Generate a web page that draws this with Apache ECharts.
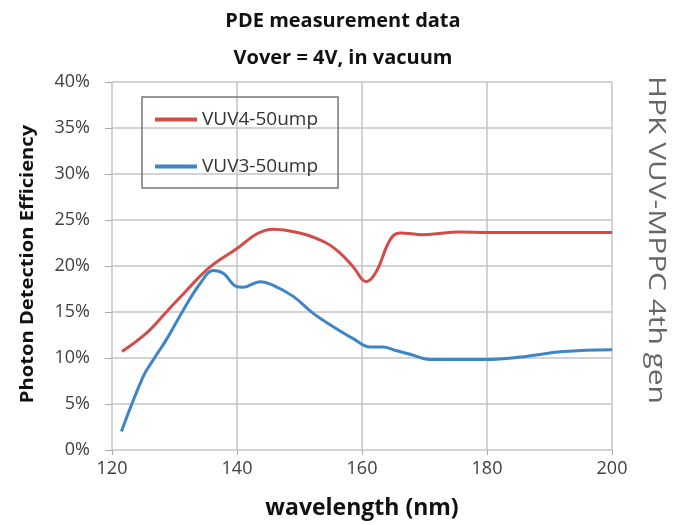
<!DOCTYPE html>
<html>
<head>
<meta charset="utf-8">
<script src="https://cdn.jsdelivr.net/npm/echarts@6/dist/echarts.min.js"></script>
<style>
  html, body { margin: 0; padding: 0; background: #fff; }
  #chart { width: 686px; height: 525px; }
</style>
</head>
<body>
<div id="chart"></div>
<script>
// values (wavelength in nm, PDE in %)
var vuv4Wl  = [121.6, 125.5, 128.7, 132.0, 135.7, 140.0, 143.2, 145.8, 148.5, 151.1, 154.3, 156.5, 158.6, 160.7, 162.3, 164.0, 165.0, 166.1, 169.8, 175.7, 180, 189.5, 200];
var vuv4Pde = [10.7, 12.7, 15.0, 17.4, 19.9, 21.9, 23.5, 24.0, 23.8, 23.4, 22.5, 21.4, 19.9, 18.3, 19.4, 22.2, 23.3, 23.6, 23.4, 23.7, 23.65, 23.65, 23.65];
var vuv3Wl  = [121.5, 125.0, 126.6, 128.7, 131.4, 134.1, 136.2, 137.8, 140.0, 141.0, 143.7, 145.8, 149.0, 152.2, 155.4, 158.6, 161.3, 163.4, 165.0, 167.7, 170.9, 180, 185.3, 192.2, 200];
var vuv3Pde = [2.0, 8.0, 9.8, 12.0, 15.2, 18.1, 19.5, 19.2, 17.75, 17.7, 18.3, 17.9, 16.7, 14.85, 13.4, 12.1, 11.2, 11.2, 10.9, 10.4, 9.85, 9.85, 10.1, 10.7, 10.9];
var seriesNames = ['VUV4-50ump', 'VUV3-50ump'];
var titleLines = ['PDE measurement data', 'Vover = 4V, in vacuum'];

function pairs(xs, ys) {
  return xs.map(function (x, i) { return [x, ys[i]]; });
}

var chart = echarts.init(document.getElementById('chart'));
chart.setOption({
  animation: false,
  title: [
    { text: titleLines[0], left: 'center', top: 6,
      textStyle: { fontFamily: 'Open Sans', fontWeight: 'bold', fontSize: 20, color: '#111' } },
    { text: titleLines[1], left: 'center', top: 43,
      textStyle: { fontFamily: 'Open Sans', fontWeight: 'bold', fontSize: 20, color: '#111' } }
  ],
  grid: { left: 112, right: 74, top: 82, bottom: 75 },
  legend: {
    orient: 'vertical',
    left: 142, top: 97,
    padding: [13, 20, 12, 13],
    itemGap: 28,
    itemWidth: 42, itemHeight: 4,
    icon: 'rect',
    borderColor: '#777', borderWidth: 1.5,
    textStyle: { fontFamily: 'Open Sans', fontSize: 19, color: '#333' },
    data: seriesNames
  },
  xAxis: {
    type: 'value', min: 120, max: 200, interval: 20,
    name: 'wavelength (nm)', nameLocation: 'middle', nameGap: 47,
    nameTextStyle: { fontFamily: 'Open Sans', fontWeight: 'bold', fontSize: 23, color: '#111' },
    axisLine: { show: false },
    axisTick: { show: true, length: 5, lineStyle: { color: '#aaa' } },
    axisLabel: { fontFamily: 'Open Sans', fontSize: 18, color: '#404040', margin: 10 },
    splitLine: { show: true, lineStyle: { color: '#c4c4c4', width: 1.5 } }
  },
  yAxis: {
    type: 'value', min: 0, max: 40, interval: 5,
    axisLine: { show: false },
    axisTick: { show: true, length: 7, lineStyle: { color: '#aaa' } },
    axisLabel: { fontFamily: 'Open Sans', fontSize: 18, color: '#404040', margin: 22, formatter: '{value}%' },
    splitLine: { show: true, lineStyle: { color: '#c4c4c4', width: 1.5 } }
  },
  graphic: [{
    type: 'text',
    x: 28, y: 264,
    rotation: Math.PI / 2,
    scaleX: 1.12,
    style: {
      text: 'Photon Detection Efficiency',
      fontFamily: 'Open Sans', fontWeight: 'bold', fontSize: 18, fill: '#111',
      align: 'center', verticalAlign: 'middle'
    }
  }, {
    type: 'text',
    x: 656, y: 240,
    rotation: -Math.PI / 2,
    scaleX: 1.3,
    style: {
      text: 'HPK VUV-MPPC 4th gen',
      fontFamily: 'Open Sans', fontSize: 23, fill: '#666',
      align: 'center', verticalAlign: 'middle'
    }
  }],
  series: [
    { name: seriesNames[0], type: 'line', smooth: 0.4, symbol: 'none',
      lineStyle: { color: '#d24d4a', width: 3 }, itemStyle: { color: '#d24d4a' },
      data: pairs(vuv4Wl, vuv4Pde) },
    { name: seriesNames[1], type: 'line', smooth: 0.4, symbol: 'none',
      lineStyle: { color: '#3d85c8', width: 3 }, itemStyle: { color: '#3d85c8' },
      data: pairs(vuv3Wl, vuv3Pde) }
  ]
});
</script>
</body>
</html>
